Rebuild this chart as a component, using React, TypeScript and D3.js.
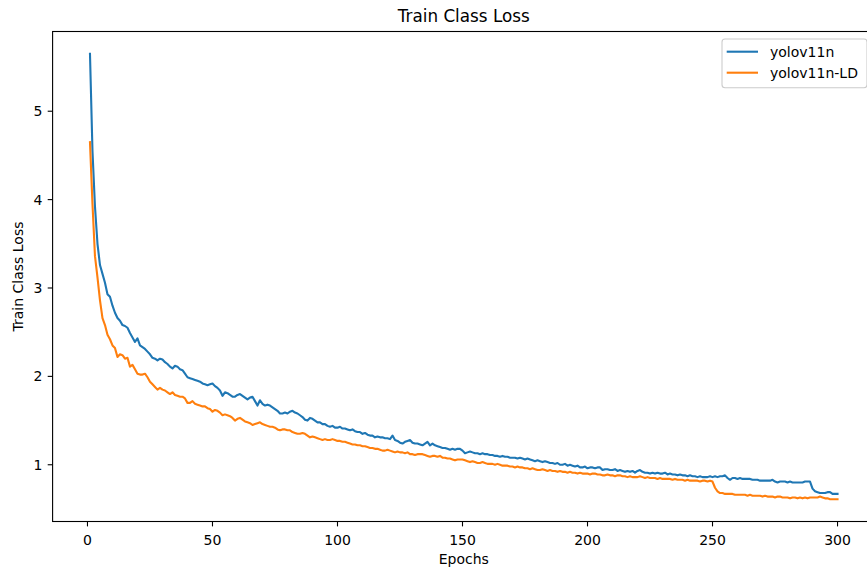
import React from "react";
import * as d3 from "d3";

const epochs: number[] = Array.from({ length: 300 }, (_, i) => i + 1);

const yolov11n: number[] = [
  5.65, 4.55, 3.92, 3.50, 3.26, 3.16, 3.06, 2.93, 2.90, 2.80,
  2.72, 2.66, 2.63, 2.58, 2.57, 2.55, 2.49, 2.44, 2.39, 2.43,
  2.35, 2.33, 2.31, 2.28, 2.25, 2.21, 2.20, 2.18, 2.20, 2.19,
  2.16, 2.14, 2.11, 2.09, 2.12, 2.11, 2.08, 2.07, 2.03, 1.99,
  1.98, 1.97, 1.96, 1.95, 1.94, 1.92, 1.91, 1.90, 1.91, 1.92,
  1.89, 1.87, 1.84, 1.78, 1.82, 1.81, 1.79, 1.77, 1.77, 1.79,
  1.80, 1.78, 1.76, 1.74, 1.76, 1.77, 1.72, 1.67, 1.73, 1.69,
  1.67, 1.68, 1.67, 1.65, 1.63, 1.61, 1.58, 1.58, 1.59, 1.58,
  1.60, 1.61, 1.59, 1.58, 1.56, 1.54, 1.51, 1.50, 1.53, 1.52,
  1.50, 1.48, 1.48, 1.46, 1.46, 1.44, 1.43, 1.44, 1.42, 1.42,
  1.43, 1.41, 1.41, 1.40, 1.39, 1.40, 1.38, 1.37, 1.37, 1.35,
  1.36, 1.34, 1.33, 1.33, 1.31, 1.32, 1.31, 1.31, 1.30, 1.30,
  1.29, 1.33, 1.28, 1.27, 1.25, 1.24, 1.26, 1.27, 1.28, 1.25,
  1.24, 1.24, 1.23, 1.22, 1.24, 1.26, 1.22, 1.24, 1.22, 1.21,
  1.20, 1.19, 1.19, 1.18, 1.17, 1.18, 1.17, 1.18, 1.18, 1.16,
  1.13, 1.14, 1.15, 1.14, 1.13, 1.13, 1.12, 1.13, 1.12, 1.12,
  1.11, 1.11, 1.10, 1.10, 1.09, 1.10, 1.09, 1.09, 1.08, 1.08,
  1.08, 1.07, 1.08, 1.07, 1.06, 1.07, 1.06, 1.05, 1.04, 1.05,
  1.04, 1.03, 1.04, 1.03, 1.02, 1.02, 1.01, 1.02, 1.00, 1.00,
  1.01, 0.99, 1.00, 0.99, 0.98, 0.99, 0.97, 0.97, 0.98, 0.96,
  0.97, 0.97, 0.96, 0.97, 0.97, 0.94, 0.95, 0.95, 0.94, 0.94,
  0.95, 0.93, 0.94, 0.93, 0.92, 0.93, 0.92, 0.93, 0.91, 0.93,
  0.94, 0.92, 0.91, 0.91, 0.90, 0.91, 0.90, 0.91, 0.90, 0.90,
  0.91, 0.89, 0.90, 0.89, 0.89, 0.88, 0.89, 0.88, 0.88, 0.87,
  0.88, 0.87, 0.87, 0.86, 0.87, 0.86, 0.86, 0.86, 0.87, 0.86,
  0.87, 0.86, 0.87, 0.87, 0.88, 0.85, 0.83, 0.85, 0.85, 0.84,
  0.85, 0.84, 0.84, 0.84, 0.84, 0.83, 0.83, 0.83, 0.82, 0.82,
  0.82, 0.82, 0.82, 0.83, 0.81, 0.80, 0.81, 0.81, 0.81, 0.80,
  0.81, 0.80, 0.80, 0.80, 0.80, 0.80, 0.81, 0.81, 0.81, 0.73,
  0.70, 0.69, 0.68, 0.68, 0.68, 0.69, 0.69, 0.67, 0.67, 0.67,
];

const yolov11nLD: number[] = [
  4.65, 3.95, 3.36, 3.12, 2.86, 2.66, 2.58, 2.47, 2.42, 2.35,
  2.32, 2.22, 2.25, 2.24, 2.20, 2.21, 2.11, 2.13, 2.08, 2.03,
  2.02, 2.02, 2.03, 1.99, 1.94, 1.91, 1.88, 1.85, 1.87, 1.85,
  1.84, 1.82, 1.80, 1.82, 1.79, 1.78, 1.77, 1.77, 1.75, 1.70,
  1.70, 1.72, 1.69, 1.68, 1.67, 1.66, 1.66, 1.64, 1.63, 1.60,
  1.62, 1.61, 1.59, 1.56, 1.57, 1.56, 1.55, 1.53, 1.50, 1.52,
  1.53, 1.51, 1.49, 1.48, 1.47, 1.45, 1.46, 1.47, 1.48, 1.46,
  1.45, 1.44, 1.43, 1.43, 1.42, 1.40, 1.39, 1.40, 1.40, 1.39,
  1.39, 1.37, 1.36, 1.35, 1.35, 1.36, 1.35, 1.33, 1.31, 1.32,
  1.31, 1.30, 1.29, 1.28, 1.29, 1.28, 1.28, 1.29, 1.28, 1.27,
  1.27, 1.26, 1.26, 1.25, 1.24, 1.23, 1.23, 1.22, 1.22, 1.21,
  1.21, 1.20, 1.19, 1.19, 1.18, 1.18, 1.17, 1.16, 1.16, 1.17,
  1.16, 1.15, 1.14, 1.15, 1.14, 1.14, 1.13, 1.14, 1.12, 1.12,
  1.11, 1.12, 1.12, 1.12, 1.11, 1.10, 1.09, 1.10, 1.10, 1.09,
  1.10, 1.08, 1.08, 1.07, 1.07, 1.06, 1.05, 1.06, 1.06, 1.06,
  1.05, 1.04, 1.03, 1.04, 1.03, 1.02, 1.02, 1.03, 1.02, 1.01,
  1.01, 1.01, 1.00, 1.01, 1.00, 0.99, 0.99, 0.99, 0.98, 0.98,
  0.97, 0.98, 0.97, 0.97, 0.96, 0.96, 0.95, 0.96, 0.95, 0.94,
  0.94, 0.95, 0.94, 0.93, 0.94, 0.93, 0.93, 0.92, 0.93, 0.92,
  0.92, 0.91, 0.92, 0.91, 0.91, 0.90, 0.91, 0.90, 0.90, 0.90,
  0.89, 0.90, 0.90, 0.89, 0.89, 0.88, 0.88, 0.89, 0.88, 0.88,
  0.87, 0.88, 0.88, 0.87, 0.87, 0.86, 0.87, 0.86, 0.86, 0.86,
  0.87, 0.86, 0.85, 0.86, 0.85, 0.85, 0.85, 0.84, 0.85, 0.84,
  0.84, 0.84, 0.84, 0.83, 0.84, 0.83, 0.83, 0.83, 0.82, 0.83,
  0.82, 0.82, 0.82, 0.82, 0.81, 0.82, 0.82, 0.81, 0.82, 0.81,
  0.74, 0.70, 0.68, 0.68, 0.67, 0.67, 0.67, 0.67, 0.66, 0.66,
  0.66, 0.66, 0.66, 0.65, 0.66, 0.65, 0.65, 0.65, 0.65, 0.64,
  0.65, 0.64, 0.64, 0.64, 0.63, 0.64, 0.64, 0.63, 0.63, 0.63,
  0.62, 0.63, 0.63, 0.62, 0.63, 0.62, 0.63, 0.62, 0.63, 0.63,
  0.63, 0.63, 0.64, 0.63, 0.62, 0.62, 0.61, 0.61, 0.61, 0.61,
];

const xTicks: number[] = [0, 50, 100, 150, 200, 250, 300];
const yTicks: number[] = [1, 2, 3, 4, 5];
const seriesNames: string[] = ["yolov11n", "yolov11n-LD"];
const seriesColors: string[] = ["#1f77b4", "#ff7f0e"];

const W = 867;
const H = 569;
const FONT = "'DejaVu Sans', sans-serif";

export default function App() {
  const left = 52.6;
  const right = 874.9;
  const top = 31.5;
  const bottom = 521.5;

  const allVals = [...yolov11n, ...yolov11nLD];
  const ymin = d3.min(allVals)!;
  const ymax = d3.max(allVals)!;
  const ym = (ymax - ymin) * 0.05;
  const xm = (300 - 1) * 0.05;

  const x = d3.scaleLinear().domain([1 - xm, 300 + xm]).range([left, right]);
  const y = d3.scaleLinear().domain([ymin - ym, ymax + ym]).range([bottom, top]);

  const line = d3
    .line<number>()
    .x((_, i) => x(epochs[i]))
    .y((d) => y(d));

  const series = [yolov11n, yolov11nLD];

  const legX = 722;
  const legY = 39;
  const legW = 145;
  const legH = 48.7;

  return (
    <svg
      width={W}
      height={H}
      style={{ position: "absolute", left: 0, top: 0, background: "#fff" }}
      fontFamily={FONT}
    >
      <rect x={0} y={0} width={W} height={H} fill="#fff" />
      <defs>
        <clipPath id="plotclip">
          <rect x={left} y={top} width={right - left} height={bottom - top} />
        </clipPath>
      </defs>
      <g clipPath="url(#plotclip)">
        {series.map((s, k) => (
          <path
            key={k}
            d={line(s) || ""}
            fill="none"
            stroke={seriesColors[k]}
            strokeWidth={2.1}
            strokeLinejoin="round"
            strokeLinecap="square"
          />
        ))}
      </g>
      {/* spines */}
      <rect
        x={left}
        y={top}
        width={right - left}
        height={bottom - top}
        fill="none"
        stroke="#000"
        strokeWidth={1.1}
      />
      {/* x ticks */}
      {xTicks.map((t) => (
        <g key={"x" + t}>
          <line x1={x(t)} x2={x(t)} y1={bottom} y2={bottom + 4.9} stroke="#000" strokeWidth={1.1} />
          <text x={x(t)} y={544.5} fontSize={14} textAnchor="middle" fill="#000">
            {t}
          </text>
        </g>
      ))}
      {/* y ticks */}
      {yTicks.map((t) => (
        <g key={"y" + t}>
          <line x1={left - 4.9} x2={left} y1={y(t)} y2={y(t)} stroke="#000" strokeWidth={1.1} />
          <text x={42.5} y={y(t)} dy="0.36em" fontSize={14} textAnchor="end" fill="#000">
            {t}
          </text>
        </g>
      ))}
      {/* labels */}
      <text x={(left + right) / 2} y={564} fontSize={14} textAnchor="middle" fill="#000">
        Epochs
      </text>
      <text
        transform={`translate(23,${(top + bottom) / 2}) rotate(-90)`}
        fontSize={14}
        textAnchor="middle"
        fill="#000"
      >
        Train Class Loss
      </text>
      <text x={(left + right) / 2} y={22} fontSize={16.8} textAnchor="middle" fill="#000">
        Train Class Loss
      </text>
      {/* legend */}
      <rect
        x={legX}
        y={legY}
        width={legW}
        height={legH}
        rx={3}
        ry={3}
        fill="#fff"
        fillOpacity={0.8}
        stroke="#cccccc"
        strokeWidth={1.1}
      />
      {seriesNames.map((n, k) => (
        <g key={n}>
          <line
            x1={726.7}
            x2={758}
            y1={51.7 + k * 21}
            y2={51.7 + k * 21}
            stroke={seriesColors[k]}
            strokeWidth={2.1}
          />
          <text x={770} y={51.7 + k * 21} dy="0.36em" fontSize={14} fill="#000">
            {n}
          </text>
        </g>
      ))}
    </svg>
  );
}
